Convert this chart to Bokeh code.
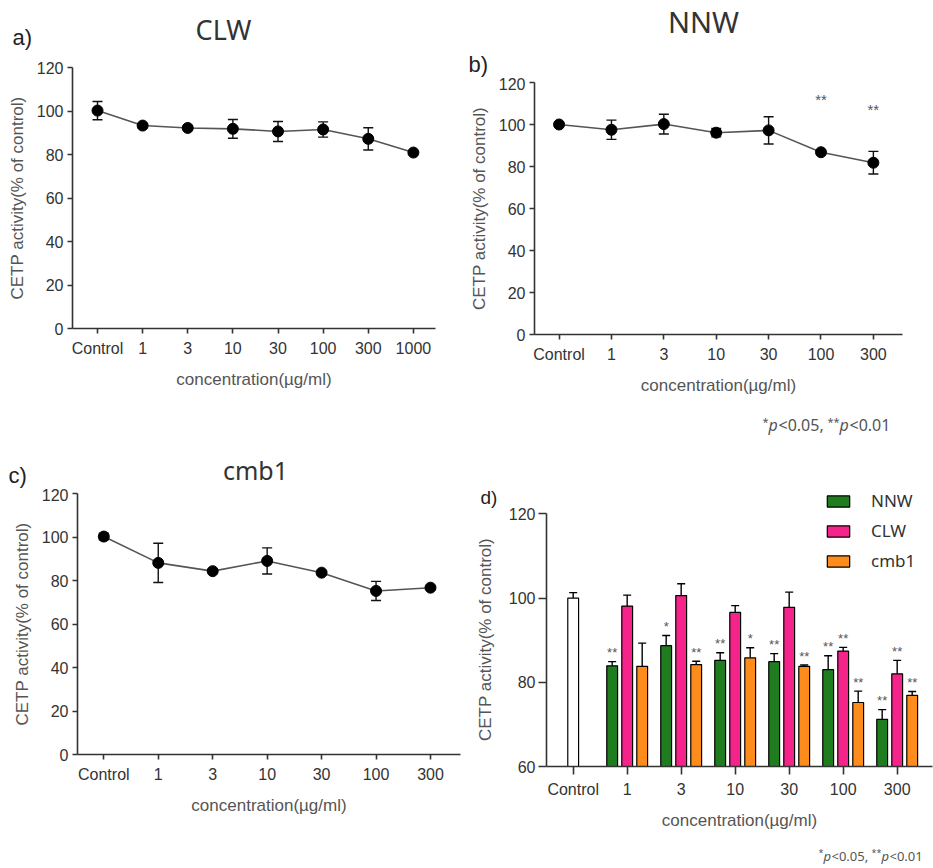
import math
from bokeh.plotting import figure
from bokeh.models import (Range1d, FixedTicker, Label, Whisker, TeeHead,
                          ColumnDataSource, Legend, LegendItem)
from bokeh.layouts import row, column
from bokeh.embed import file_html
from bokeh.resources import INLINE
from bokeh.core.properties import value

# ---------------- data ----------------
# a) CLW
a_cats = ["Control", "1", "3", "10", "30", "100", "300", "1000"]
a_mean = [100.2, 93.3, 92.2, 91.8, 90.6, 91.5, 87.2, 80.9]
a_err = [4.2, 1.0, 0.8, 4.3, 4.6, 3.5, 5.1, 0.8]

# b) NNW
b_cats = ["Control", "1", "3", "10", "30", "100", "300"]
b_mean = [100.0, 97.5, 100.2, 96.1, 97.2, 86.8, 81.8]
b_err = [1.0, 4.6, 4.7, 2.0, 6.5, 1.0, 5.4]
b_sig = ["", "", "", "", "", "**", "**"]

# c) cmb1
c_cats = ["Control", "1", "3", "10", "30", "100", "300"]
c_mean = [100.2, 88.1, 84.3, 89.0, 83.6, 75.2, 76.7]
c_err = [1.5, 9.0, 0.8, 6.0, 0.8, 4.4, 0.8]

# d) grouped bars
d_cats = ["Control", "1", "3", "10", "30", "100", "300"]
d_control_mean = [100.0]
d_control_err = [1.3]
d_names = ["NNW", "CLW", "cmb1"]
d_nnw = [83.9, 88.7, 85.2, 84.9, 83.0, 71.2]
d_nnw_err = [1.0, 2.4, 1.8, 1.9, 3.3, 2.3]
d_nnw_sig = ["**", "*", "**", "**", "**", "**"]
d_clw = [98.1, 100.6, 96.6, 97.8, 87.4, 82.0]
d_clw_err = [2.6, 2.8, 1.6, 3.6, 0.9, 3.2]
d_clw_sig = ["", "", "", "", "**", "**"]
d_cmb1 = [83.8, 84.2, 85.8, 83.8, 75.2, 76.9]
d_cmb1_err = [5.5, 0.8, 2.4, 0.3, 2.7, 0.9]
d_cmb1_sig = ["", "**", "*", "**", "**", "**"]
d_colors = ["#1f7d1f", "#f5248b", "#fd8c1c"]

Y_LABEL = "CETP activity(% of control)"
X_LABEL = "concentration(\u00b5g/ml)"
AX = "#333333"
TICK_FONT = "Liberation Sans"


def style_axes(p, cats, yticks, tick_out=5, ybounds=None):
    p.outline_line_color = None
    p.grid.visible = False
    p.xaxis.ticker = FixedTicker(ticks=list(range(len(cats))))
    p.xaxis.major_label_overrides = {i: c for i, c in enumerate(cats)}
    p.yaxis.ticker = FixedTicker(ticks=yticks)
    if ybounds is not None:
        p.yaxis.bounds = ybounds
    for ax in (p.xaxis, p.yaxis):
        ax.axis_line_color = AX
        ax.axis_line_width = 1.6
        ax.major_tick_line_color = AX
        ax.major_tick_line_width = 1.6
        ax.major_tick_out = tick_out
        ax.major_tick_in = 0
        ax.minor_tick_line_color = None
        ax.major_label_text_font = TICK_FONT
        ax.major_label_text_font_size = "16px"
        ax.major_label_text_color = "#333333"
        ax.axis_label_text_font = TICK_FONT
        ax.axis_label_text_font_size = "17px"
        ax.axis_label_text_font_style = "normal"
        ax.axis_label_text_color = "#555555"
    p.xaxis.axis_label = X_LABEL
    p.xaxis.major_label_standoff = 6
    p.xaxis.axis_label_standoff = 10
    p.yaxis.major_label_standoff = 4
    p.yaxis.axis_label_standoff = 7


def make_fig(w, h, bl, br, bt, bb, xr, yr):
    return figure(width=w, height=h, x_range=Range1d(*xr), y_range=Range1d(*yr),
                  output_backend="svg", toolbar_location=None, title=None,
                  min_border_left=bl, min_border_right=br,
                  min_border_top=bt, min_border_bottom=bb,
                  background_fill_color="white", border_fill_color="white")


def strip(w, h, ox, oy):
    # axis-less figure; data x = page x, data y = -(page y)
    p = figure(width=w, height=h, x_range=Range1d(ox, ox + w), y_range=Range1d(-(oy + h), -oy),
               output_backend="svg", toolbar_location=None, title=None,
               x_axis_location=None, y_axis_location=None, min_border=0,
               background_fill_color="white", border_fill_color="white")
    p.outline_line_color = None
    p.grid.visible = False
    return p


def txt(p, x, y, text, size, font="Noto Sans", color="#333333", style="normal",
        align="left", angle=0.0):
    p.add_layout(Label(x=x, y=-y, text=text, text_font=font, text_font_size=f"{size}px",
                       text_color=color, text_font_style=style, text_align=align,
                       text_baseline="middle", angle=angle))


def pnote(p, xs, mid, size, conv=None):
    pieces = [("*", "normal", True), ("p", "italic", False), ("<0.05,", "normal", False),
              ("**", "normal", True), ("p", "italic", False), ("<0.01", "normal", False)]
    for (t, st, sup), x in zip(pieces, xs):
        s = round(size * 0.7) if sup else size
        y = mid - 3 if sup else mid
        if conv is None:
            txt(p, x, y, t, s, color="#555555", style=st)
        else:
            sx, sy = conv(x, y)
            p.add_layout(Label(x=sx, y=sy, x_units="screen", y_units="screen", text=t,
                               text_font="Noto Sans", text_font_size=f"{s}px",
                               text_color="#555555", text_font_style=st,
                               text_baseline="middle"))


def line_panel(p, mean, err):
    xs = list(range(len(mean)))
    src = ColumnDataSource(dict(x=xs, y=mean,
                                upper=[m + e for m, e in zip(mean, err)],
                                lower=[m - e for m, e in zip(mean, err)]))
    p.line("x", "y", source=src, line_color="#555555", line_width=1.6)
    p.add_layout(Whisker(base="x", upper="upper", lower="lower", source=src,
                         line_color="#111111", line_width=1.4,
                         upper_head=TeeHead(size=10, line_color="#111111", line_width=1.4),
                         lower_head=TeeHead(size=10, line_color="#111111", line_width=1.4)))
    p.scatter("x", "y", source=src, size=11, color="black")


# ================= left column =================
sa = strip(466, 57, 0, 0)
txt(sa, 12, 37, "a)", 22, font="Liberation Sans", color="#222222")
txt(sa, 223, 29, "CLW", 27, align="center")

pa = make_fig(466, 383, 72, 31, 10, 112, (-0.554, 7.49), (0, 120))
style_axes(pa, a_cats, [0, 20, 40, 60, 80, 100, 120])
pa.yaxis.axis_label = Y_LABEL
line_panel(pa, a_mean, a_err)

sc = strip(466, 48, 0, 440)
txt(sc, 8, 475, "c)", 22, font="Liberation Sans", color="#222222")
txt(sc, 255, 469, "cmb1", 25, align="center")

pc = make_fig(466, 380, 77, 6, 5, 114, (-0.483, 6.551), (0, 120))
style_axes(pc, c_cats, [0, 20, 40, 60, 80, 100, 120])
pc.yaxis.axis_label = Y_LABEL
line_panel(pc, c_mean, c_err)

# ================= right column =================
sb = strip(467, 77, 466, 0)
txt(sb, 703, 21, "NNW", 29, align="center")
txt(sb, 468, 64, "b)", 22, font="Liberation Sans", color="#222222")

pb = make_fig(467, 323, 66, 31, 5, 66, (-0.469, 6.556), (0, 120))
style_axes(pb, b_cats, [0, 20, 40, 60, 80, 100, 120])
pb.yaxis.axis_label = Y_LABEL
line_panel(pb, b_mean, b_err)
pb.text(x=list(range(len(b_mean))), y=b_mean, text=b_sig, y_offset=-53,
        text_align="center", text_baseline="middle", text_font_size="15px",
        text_color="#555555", text_font=value(TICK_FONT))

# narrow label column left of panel d
yd = strip(36, 440, 466, 400)
txt(yd, 485, 639, Y_LABEL, 17, font=TICK_FONT, color="#555555", align="center",
    angle=math.pi / 2)
txt(yd, 480, 497, "d)", 19, font="Liberation Sans", color="#222222")

# panel d: frame spans page y 400..766 (value 60 at 766, 4.211 px per unit)
D_TOP = 60 + (766 - 400) / 4.211
pd = make_fig(431, 440, 44, 1, 0, 74, (-0.494, 6.654), (60, D_TOP))
style_axes(pd, d_cats, [60, 80, 100, 120], tick_out=8, ybounds=(60, 120))
pd.yaxis.major_label_standoff = 3
bw = 0.2
off = 0.278
ctrl = ColumnDataSource(dict(x=[0], top=d_control_mean,
                             upper=[m + e for m, e in zip(d_control_mean, d_control_err)]))
pd.vbar(x="x", top="top", bottom=60, width=bw, source=ctrl, fill_color="white",
        line_color="black", line_width=1.2)
pd.add_layout(Whisker(base="x", upper="upper", lower="top", source=ctrl,
                      line_color="black", line_width=1.4, lower_head=None,
                      upper_head=TeeHead(size=8, line_color="black", line_width=1.4)))
renderers = []
series = [(d_nnw, d_nnw_err, d_nnw_sig), (d_clw, d_clw_err, d_clw_sig),
          (d_cmb1, d_cmb1_err, d_cmb1_sig)]
for k, ((vals, errs, sig), col) in enumerate(zip(series, d_colors)):
    xs = [i + 1 + (k - 1) * off for i in range(len(vals))]
    src = ColumnDataSource(dict(x=xs, top=vals,
                                upper=[v + e for v, e in zip(vals, errs)], sig=sig))
    r = pd.vbar(x="x", top="top", bottom=60, width=bw, source=src, fill_color=col,
                line_color="black", line_width=1.2)
    renderers.append(r)
    pd.add_layout(Whisker(base="x", upper="upper", lower="top", source=src,
                          line_color="black", line_width=1.4, lower_head=None,
                          upper_head=TeeHead(size=8, line_color="black", line_width=1.4)))
    pd.text(x="x", y="upper", text="sig", source=src, y_offset=-9,
            text_align="center", text_baseline="middle", text_font_size="13px",
            text_color="#555555", text_font=value(TICK_FONT))

legend = Legend(items=[LegendItem(label=n, renderers=[r]) for n, r in zip(d_names, renderers)],
                location=(278, 194), border_line_color=None, background_fill_alpha=0,
                padding=0, margin=0, spacing=7, label_height=20, glyph_height=14,
                glyph_width=28, label_standoff=19, label_text_font="Noto Sans",
                label_text_font_size="17px", label_text_color="#333333")
pd.add_layout(legend)

# p-value note of panel b sits inside the (extended) frame of panel d
pnote(pd, [762, 768, 778, 827, 839, 849], 424, 16,
      conv=lambda x, y: (x - 546, 766 - y))

sd = strip(467, 28, 466, 840)
pnote(sd, [818, 823, 831, 871, 881, 889], 855, 13)

# wrap every figure on its own so that frames are not aligned across panels
W = lambda f: column(f)
left = column(W(sa), W(pa), W(sc), W(pc))
right = column(W(sb), W(pb), row(W(yd), W(pd)), W(sd))
layout = row(left, right)
open("out.html", "w").write(file_html(layout, INLINE))
